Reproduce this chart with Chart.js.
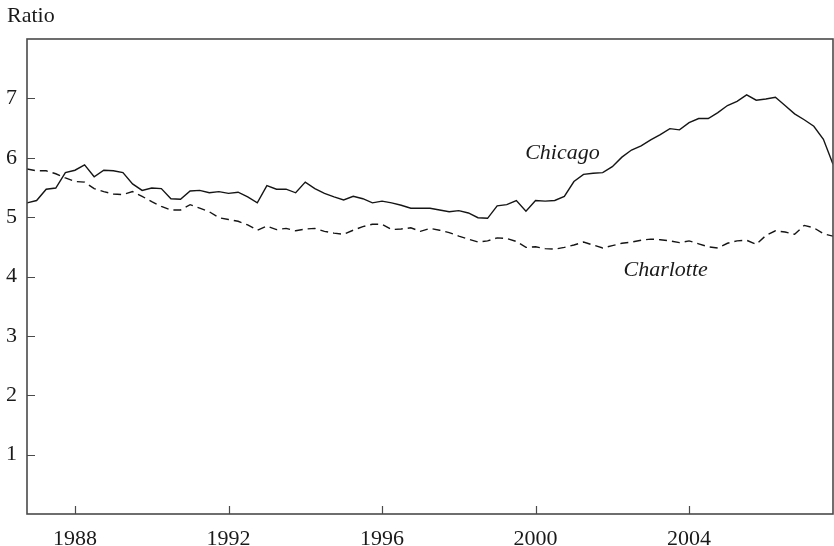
<!DOCTYPE html>
<html>
<head>
<meta charset="utf-8">
<script src="https://cdn.jsdelivr.net/npm/chart.js@4/dist/chart.umd.min.js"></script>
<style>
  html, body { margin: 0; padding: 0; background: #ffffff; }
  #wrap { width: 834px; height: 546px; position: relative; }
</style>
</head>
<body>
<div id="wrap"><canvas id="c" width="834" height="546"></canvas></div>
<script>
// ---- Data (quarterly) ----
const startYear = 1986.75;
const chicago = [
  5.24, 5.28, 5.47, 5.49, 5.75, 5.79, 5.88, 5.68, 5.79, 5.78, 5.75, 5.56,
  5.45, 5.49, 5.48, 5.31, 5.30, 5.44, 5.45, 5.41, 5.43, 5.40, 5.42, 5.34,
  5.24, 5.53, 5.47, 5.47, 5.41, 5.59, 5.48, 5.40, 5.34, 5.29, 5.35, 5.31,
  5.24, 5.27, 5.24, 5.20, 5.15, 5.15, 5.15, 5.12, 5.09, 5.11, 5.07, 4.99,
  4.98, 5.19, 5.21, 5.28, 5.10, 5.28, 5.27, 5.28, 5.35, 5.60, 5.72, 5.74,
  5.75, 5.85, 6.01, 6.13, 6.20, 6.30, 6.39, 6.49, 6.47, 6.59, 6.66, 6.66,
  6.76, 6.88, 6.95, 7.06, 6.97, 6.99, 7.02, 6.88, 6.74, 6.64, 6.53, 6.31,
  5.89
];
const charlotte = [
  5.81, 5.78, 5.78, 5.73, 5.66, 5.60, 5.59, 5.48, 5.43, 5.39, 5.38, 5.43,
  5.35, 5.26, 5.18, 5.12, 5.12, 5.21, 5.15, 5.09, 4.99, 4.96, 4.93, 4.87,
  4.78, 4.85, 4.79, 4.81, 4.77, 4.80, 4.81, 4.76, 4.73, 4.71, 4.78, 4.84,
  4.88, 4.88, 4.79, 4.80, 4.82, 4.76, 4.81, 4.78, 4.74, 4.68, 4.63, 4.58,
  4.60, 4.65, 4.64, 4.59, 4.49, 4.50, 4.47, 4.46, 4.49, 4.53, 4.58, 4.53,
  4.48, 4.52, 4.56, 4.58, 4.61, 4.63, 4.62, 4.60, 4.57, 4.60, 4.55, 4.50,
  4.48, 4.56, 4.60, 4.61, 4.54, 4.69, 4.77, 4.75, 4.71, 4.86, 4.82, 4.72,
  4.68
];
const quarters = chicago.map((_, i) => startYear + i / 4);
const xTickYears = [1988, 1992, 1996, 2000, 2004];
const yTickValues = [1, 2, 3, 4, 5, 6, 7];
const seriesLabels = [
  { text: 'Chicago',   x: 2000.70, y: 5.98 },
  { text: 'Charlotte', x: 2003.39, y: 4.01 }
];

// ---- Styling ----
const serif = '"Liberation Serif", "Times New Roman", serif';
const axisColor = '#4a4a4a';
const lineColor = '#151515';
const textColor = '#1a1a1a';

const decorPlugin = {
  id: 'decor',
  afterDraw(chart) {
    const ctx = chart.ctx;
    const a = chart.chartArea;
    const xs = chart.scales.x, ys = chart.scales.y;
    ctx.save();
    // frame
    ctx.strokeStyle = axisColor;
    ctx.lineWidth = 1.6;
    ctx.strokeRect(a.left, a.top, a.right - a.left, a.bottom - a.top);
    // inward ticks
    ctx.lineWidth = 1.2;
    ctx.beginPath();
    xTickYears.forEach(v => {
      const px = Math.round(xs.getPixelForValue(v)) + 0.5;
      ctx.moveTo(px, a.bottom);
      ctx.lineTo(px, a.bottom - 8);
    });
    yTickValues.forEach(v => {
      const py = Math.round(ys.getPixelForValue(v)) + 0.5;
      ctx.moveTo(a.left, py);
      ctx.lineTo(a.left + 8, py);
    });
    ctx.stroke();
    // axis title
    ctx.fillStyle = textColor;
    ctx.font = '22px ' + serif;
    ctx.textAlign = 'left';
    ctx.textBaseline = 'alphabetic';
    ctx.fillText('Ratio', 7, 22);
    // series labels
    ctx.font = 'italic 22px ' + serif;
    ctx.textAlign = 'center';
    seriesLabels.forEach(l => {
      ctx.fillText(l.text, xs.getPixelForValue(l.x), ys.getPixelForValue(l.y));
    });
    ctx.restore();
  }
};

new Chart(document.getElementById('c'), {
  type: 'line',
  data: {
    datasets: [
      {
        label: 'Chicago',
        data: quarters.map((q, i) => ({ x: q, y: chicago[i] })),
        borderColor: lineColor,
        borderWidth: 1.4,
        pointRadius: 0,
        tension: 0,
        fill: false
      },
      {
        label: 'Charlotte',
        data: quarters.map((q, i) => ({ x: q, y: charlotte[i] })),
        borderColor: lineColor,
        borderWidth: 1.4,
        borderDash: [8, 5],
        pointRadius: 0,
        tension: 0,
        fill: false
      }
    ]
  },
  options: {
    responsive: false,
    animation: false,
    events: [],
    layout: { padding: { top: 39, right: 1, left: 0, bottom: 0 } },
    plugins: {
      legend: { display: false },
      title: { display: false },
      tooltip: { enabled: false }
    },
    scales: {
      x: {
        type: 'linear',
        min: quarters[0],
        max: quarters[quarters.length - 1],
        afterBuildTicks: s => { s.ticks = xTickYears.map(v => ({ value: v })); },
        afterFit: s => { s.height = 32; },
        grid: { display: false, drawTicks: false },
        border: { display: false },
        ticks: {
          callback: v => String(v),
          color: textColor,
          font: { family: serif, size: 22 },
          padding: 12,
          maxRotation: 0,
          autoSkip: false
        }
      },
      y: {
        min: 0,
        max: 8,
        afterBuildTicks: s => { s.ticks = yTickValues.map(v => ({ value: v })); },
        afterFit: s => { s.width = 27; },
        grid: { display: false, drawTicks: false },
        border: { display: false },
        ticks: {
          callback: v => String(v),
          color: textColor,
          font: { family: serif, size: 22 },
          padding: 10
        }
      }
    }
  },
  plugins: [decorPlugin]
});
</script>
</body>
</html>
